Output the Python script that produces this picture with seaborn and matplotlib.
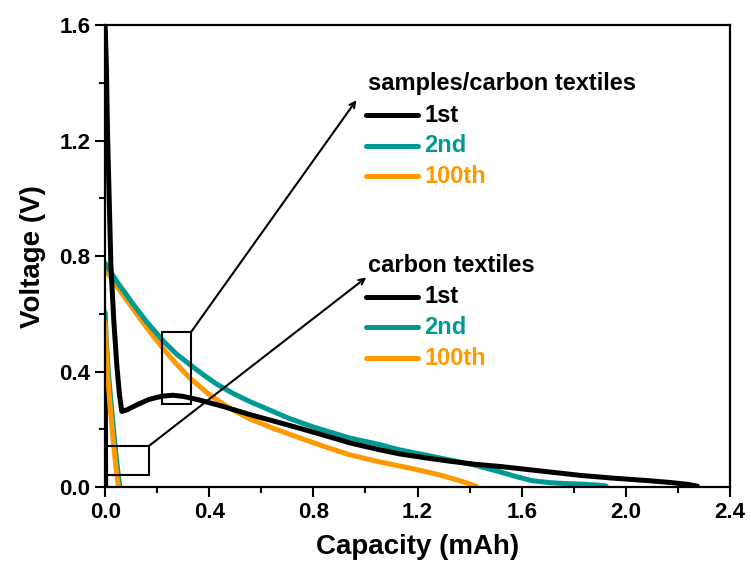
import matplotlib
matplotlib.use("Agg")
import matplotlib.pyplot as plt
import seaborn as sns
from matplotlib.patches import Rectangle
from matplotlib.ticker import MultipleLocator, FormatStrFormatter

# samples/carbon textiles
s1_x = [0.000, 0.005, 0.009, 0.015, 0.022, 0.033, 0.045, 0.055, 0.064, 0.085, 0.12, 0.17,
        0.22, 0.26, 0.30, 0.36, 0.45, 0.56, 0.65, 0.75, 0.85, 0.94, 1.05, 1.13, 1.24, 1.32,
        1.42, 1.52, 1.64, 1.74, 1.83, 1.95, 2.09, 2.18, 2.24, 2.275]
s1_y = [1.600, 1.450, 1.230, 1.020, 0.770, 0.580, 0.420, 0.320, 0.262, 0.268, 0.284, 0.304,
        0.315, 0.318, 0.314, 0.302, 0.280, 0.250, 0.228, 0.203, 0.177, 0.153, 0.130, 0.115,
        0.100, 0.090, 0.079, 0.071, 0.059, 0.049, 0.040, 0.031, 0.022, 0.015, 0.009, 0.003]

s2_x = [0.000, 0.045, 0.109, 0.16, 0.224, 0.275, 0.326, 0.38, 0.428, 0.49, 0.556, 0.709,
        0.80, 0.939, 1.05, 1.131, 1.23, 1.323, 1.42, 1.515, 1.58, 1.64, 1.70, 1.77, 1.834,
        1.89, 1.924]
s2_y = [0.776, 0.712, 0.632, 0.572, 0.505, 0.460, 0.424, 0.387, 0.357, 0.325, 0.296, 0.237,
        0.208, 0.170, 0.148, 0.129, 0.111, 0.094, 0.076, 0.053, 0.036, 0.022, 0.016, 0.012,
        0.010, 0.007, 0.004]

s3_x = [0.000, 0.045, 0.109, 0.16, 0.224, 0.275, 0.326, 0.403, 0.48, 0.556, 0.65, 0.748,
        0.85, 0.939, 1.05, 1.13, 1.20, 1.28, 1.34, 1.39, 1.425]
s3_y = [0.755, 0.695, 0.615, 0.552, 0.478, 0.425, 0.377, 0.318, 0.272, 0.236, 0.202, 0.170,
        0.138, 0.112, 0.088, 0.073, 0.060, 0.043, 0.028, 0.014, 0.003]

# carbon textiles
c1_x = [0.000, 0.001, 0.002]
c1_y = [0.520, 0.250, 0.000]

c2_x = [0.000, 0.005, 0.012, 0.022, 0.032, 0.043, 0.052, 0.057]
c2_y = [0.605, 0.500, 0.400, 0.300, 0.200, 0.100, 0.030, 0.000]

c3_x = [0.000, 0.004, 0.010, 0.019, 0.029, 0.040, 0.048, 0.052]
c3_y = [0.570, 0.480, 0.380, 0.280, 0.180, 0.080, 0.020, 0.000]

cycles = ["1st", "2nd", "100th"]
colors = ["black", "#009994", "#FF9900"]

sns.set_style("ticks")
plt.rcParams['font.family'] = ['Liberation Sans', 'DejaVu Sans']
plt.rcParams['font.weight'] = 'bold'
plt.rcParams['axes.labelweight'] = 'bold'
plt.rcParams['text.color'] = 'black'
plt.rcParams['axes.labelcolor'] = 'black'
plt.rcParams['xtick.color'] = 'black'
plt.rcParams['ytick.color'] = 'black'
plt.rcParams['axes.edgecolor'] = 'black'

fig, ax = plt.subplots(figsize=(7.51, 5.71), dpi=100)
fig.subplots_adjust(left=0.140, right=0.972, bottom=0.147, top=0.956)

series = [(c1_x, c1_y, colors[0]), (c2_x, c2_y, colors[1]), (c3_x, c3_y, colors[2]),
          (s3_x, s3_y, colors[2]), (s2_x, s2_y, colors[1]), (s1_x, s1_y, colors[0])]
for x, y, c in series:
    sns.lineplot(x=x, y=y, color=c, lw=3.6, sort=False, estimator=None, ax=ax)

# zoom boxes and arrows
ax.add_patch(Rectangle((0.004, 0.041), 0.165, 0.102, fill=False, lw=1.5, ec="black", zorder=5))
ax.add_patch(Rectangle((0.22, 0.289), 0.11, 0.248, fill=False, lw=1.5, ec="black", zorder=5))
ax.annotate("", xy=(0.965, 1.34), xytext=(0.33, 0.537),
            arrowprops=dict(arrowstyle="->", lw=1.5, color="black", shrinkA=0, shrinkB=0))
ax.annotate("", xy=(1.003, 0.726), xytext=(0.169, 0.143),
            arrowprops=dict(arrowstyle="->", lw=1.5, color="black", shrinkA=0, shrinkB=0))

# hand-made legends
def legend_block(title, y0):
    ax.text(1.008, y0, title, fontsize=17, fontweight="bold", va="center", ha="left")
    for i, (lab, c) in enumerate(zip(cycles, colors)):
        yy = y0 - 0.11 - i * 0.106
        ax.plot([1.003, 1.20], [yy, yy], color=c, lw=3.6, solid_capstyle="round")
        ax.text(1.227, yy, lab, color=c, fontsize=17, fontweight="bold", va="center", ha="left")

legend_block("samples/carbon textiles", 1.398)
legend_block("carbon textiles", 0.769)

ax.set_xlim(0, 2.4)
ax.set_ylim(0, 1.6)
ax.xaxis.set_major_locator(MultipleLocator(0.4))
ax.xaxis.set_minor_locator(MultipleLocator(0.2))
ax.yaxis.set_major_locator(MultipleLocator(0.4))
ax.yaxis.set_minor_locator(MultipleLocator(0.2))
ax.xaxis.set_major_formatter(FormatStrFormatter('%.1f'))
ax.yaxis.set_major_formatter(FormatStrFormatter('%.1f'))
ax.tick_params(which="major", direction="out", length=7, width=1.5, labelsize=16)
ax.tick_params(which="minor", direction="out", length=4, width=1.5)
for sp in ax.spines.values():
    sp.set_linewidth(1.6)
    sp.set_zorder(6)

ax.set_xlabel("Capacity (mAh)", fontsize=20, fontweight="bold", labelpad=8)
ax.set_ylabel("Voltage (V)", fontsize=20, fontweight="bold", labelpad=10)

plt.savefig("out.png", dpi=100)
